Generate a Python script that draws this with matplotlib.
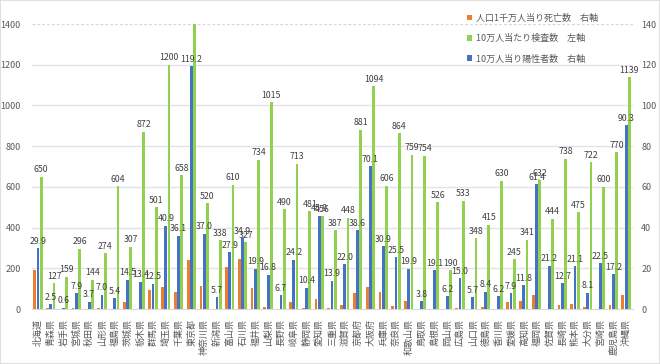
import numpy as np
import matplotlib
matplotlib.use("Agg")
import matplotlib.pyplot as plt
from matplotlib.patches import Rectangle

plt.rcParams['font.family'] = ['Noto Sans CJK JP', 'DejaVu Sans']

prefs = ['北海道', '青森県', '岩手県', '宮城県', '秋田県', '山形県', '福島県', '茨城県', '栃木県', '群馬県',
         '埼玉県', '千葉県', '東京都', '神奈川県', '新潟県', '富山県', '石川県', '福井県', '山梨県', '長野県',
         '岐阜県', '静岡県', '愛知県', '三重県', '滋賀県', '京都府', '大阪府', '兵庫県', '奈良県', '和歌山県',
         '鳥取県', '島根県', '岡山県', '広島県', '山口県', '徳島県', '香川県', '愛媛県', '高知県', '福岡県',
         '佐賀県', '長崎県', '熊本県', '大分県', '宮崎県', '鹿児島県', '沖縄県']

# 人口1千万人当り死亡数 (right axis)
deaths = [19.2, 0.7, 0, 0.5, 0, 0.6, 0, 3.6, 0, 9.3,
          10.6, 8.5, 23.9, 11.1, 0, 20.6, 24.4, 10.2, 1.0, 0,
          3.4, 0.3, 4.9, 0.5, 2.0, 7.9, 10.8, 8.3, 1.5, 4.1,
          0, 0, 0, 0.6, 0, 1.1, 0, 3.6, 4.1, 7.0,
          0, 2.1, 2.5, 0.8, 0, 1.8, 6.7]

# 10万人当たり検査数 (left axis)
tests = [650, 127, 159, 296, 144, 274, 604, 307, 872, 501,
         1200, 658, 1520, 520, 338, 610, 327, 734, 1015, 490,
         713, 481, 456, 387, 448, 881, 1094, 606, 864, 759,
         754, 526, 190, 533, 348, 415, 630, 245, 341, 632,
         444, 738, 475, 722, 600, 770, 1139]

# 10万人当り陽性者数 (right axis)
positives = [29.9, 2.5, 0.6, 7.9, 3.7, 7.0, 5.4, 14.5, 13.4, 12.5,
             40.9, 36.1, 119.2, 37.0, 5.7, 27.9, 34.9, 19.9, 16.8, 6.7,
             24.2, 10.4, 45.9, 13.9, 22.0, 38.6, 70.1, 30.9, 25.5, 19.9,
             3.8, 19.1, 6.2, 15.0, 5.7, 8.4, 6.2, 7.9, 11.8, 61.4,
             21.2, 12.7, 21.1, 8.1, 22.5, 17.2, 90.3]

orange = '#ED7D31'
green = '#92D050'
blue = '#4472C4'
txt = '#595959'

fig = plt.figure(figsize=(6.6, 3.64), dpi=100)
fig.patches.append(Rectangle((0, 0), 1, 1, transform=fig.transFigure,
                             fill=False, edgecolor='#d9d9d9', linewidth=1.2))
ax = fig.add_axes([0.0485, 0.151, 0.9105, 0.783])
ax2 = ax.twinx()

x = np.arange(len(prefs))
w = 0.22

gb = ax.bar(x + 0.22, tests, w, color=green, label='10万人当たり検査数\u3000左軸', zorder=2)
ob = ax2.bar(x - 0.29, deaths, w, color=orange, label='人口1千万人当り死亡数\u3000右軸', zorder=2)
bb = ax2.bar(x - 0.03, positives, w, color=blue, label='10万人当り陽性者数\u3000右軸', zorder=2)

for xi, v in zip(x, tests):
    if v <= 1400:
        ax.text(xi + 0.22, v + 12, f'{v}', ha='center', va='bottom', fontsize=6.3, color='#404040')
for xi, v in zip(x, positives):
    ax2.text(xi - 0.03, v + 1.2, f'{v:.1f}', ha='center', va='bottom', fontsize=6.3, color='#404040',
             clip_on=False)

ax.set_ylim(0, 1400)
ax2.set_ylim(0, 140)
ax.set_xlim(-0.5, len(prefs) - 0.5)
ax.set_yticks(np.arange(0, 1401, 200))
ax2.set_yticks(np.arange(0, 141, 20))
for yv in np.arange(200, 1400, 200):
    ax.axhline(yv, color='#e6e0ea', linewidth=1, zorder=0)
ax.axhline(1400, color='#d9d9d9', linewidth=1, linestyle=(0, (2, 1.5)), zorder=0)

ax.set_xticks(x)
ax.set_xticklabels(prefs, rotation=90, fontsize=6.5, color=txt)
ax.tick_params(axis='x', length=0, pad=7)
ax.tick_params(axis='y', length=0, labelsize=6.5, labelcolor=txt, pad=8)
ax2.tick_params(axis='y', length=0, labelsize=6.5, labelcolor=txt, pad=6)
for a in (ax, ax2):
    for s in a.spines.values():
        s.set_visible(False)
ax.spines['bottom'].set_visible(True)
ax.spines['bottom'].set_color('#d9d9d9')

handles = [ob, gb, bb]
leg = fig.legend(handles, [h.get_label() for h in handles], loc='upper left',
                 bbox_to_anchor=(0.695, 0.985), frameon=False, fontsize=6.5,
                 labelspacing=1.25, handlelength=0.6, handleheight=0.6, handletextpad=0.4)
for t in leg.get_texts():
    t.set_color(txt)

fig.savefig('out.png', dpi=100)
